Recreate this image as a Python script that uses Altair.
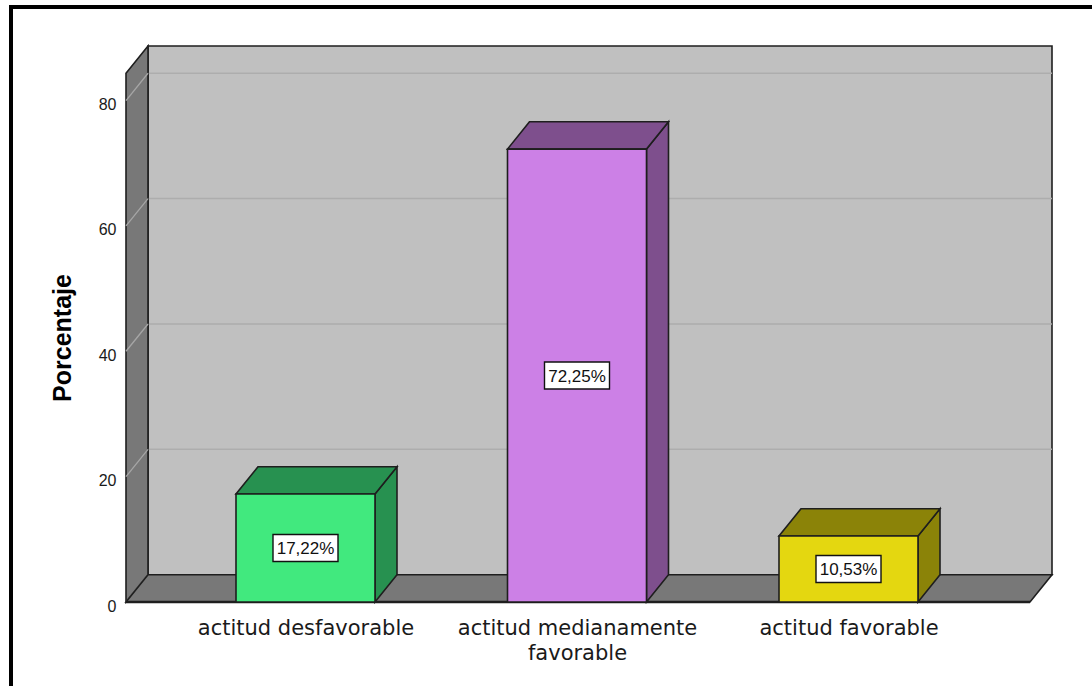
import textwrap

import altair as alt
import pandas as pd

# ---- data -------------------------------------------------------------
categories = ["actitud desfavorable", "actitud medianamente favorable", "actitud favorable"]
percentages = [17.22, 72.25, 10.53]
y_ticks = [0, 20, 40, 60, 80]

# ---- style ------------------------------------------------------------
front_colors = ["#41e97e", "#cc80e6", "#e4d710"]
shade_colors = ["#279150", "#7e4f8d", "#8b8308"]
WALL_BACK = "#c0c0c0"
WALL_SIDE = "#787878"
EDGE = "#1e1e1e"

# ---- geometry (plot area and the 3-D depth offset) --------------------
W, H = 926, 556
PAD = {"left": 126, "top": 46, "right": 1092 - 126 - W, "bottom": 686 - 46 - H}
Y_TOP = 88.7                      # percent at the top of the plot area
STEP_PX = 271.5                   # distance between category centres
X0 = -179.5 / STEP_PX             # left edge of the plot, in category units
X1 = X0 + W / STEP_PX             # right edge
HALF = 69.5 / STEP_PX             # half bar width
DX = 22 / STEP_PX                 # depth, horizontal
DY = 27.3 / (H / Y_TOP)           # depth, vertical (percent units)

xs = alt.Scale(domain=[X0, X1], nice=False, zero=False)
ys = alt.Scale(domain=[0, Y_TOP], nice=False, zero=False)
shade = alt.Scale(domain=categories, range=shade_colors)
front = alt.Scale(domain=categories, range=front_colors)

idx = list(range(len(categories)))
bars = pd.DataFrame({
    "cat": categories,
    "i": idx,
    "pct": percentages,
    "lo": [i - HALF for i in idx],
    "hi": [i + HALF for i in idx],
    "mid": [p / 2 for p in percentages],
    "label": [f"{p:.2f}".replace(".", ",") + "%" for p in percentages],
})

top_rows, side_rows = [], []
for c, i, p in zip(categories, idx, percentages):
    top_rows += [
        {"cat": c, "y": p, "xa": i - HALF, "xb": i + HALF},
        {"cat": c, "y": p + DY, "xa": i - HALF + DX, "xb": i + HALF + DX},
    ]
    side_rows += [
        {"cat": c, "x": i + HALF, "ya": 0, "yb": p},
        {"cat": c, "x": i + HALF + DX, "ya": DY, "yb": p + DY},
    ]
top_faces = pd.DataFrame(top_rows)
side_faces = pd.DataFrame(side_rows)

# walls of the box
back_wall = pd.DataFrame([{"xa": X0 + DX, "xb": X1, "ya": DY, "yb": Y_TOP}])
left_wall = pd.DataFrame([
    {"x": X0, "ya": 0, "yb": Y_TOP - DY},
    {"x": X0 + DX, "ya": DY, "yb": Y_TOP},
])
floor = pd.DataFrame([
    {"y": 0, "xa": X0, "xb": X1 - DX},
    {"y": DY, "xa": X0 + DX, "xb": X1},
])
grid_back = pd.DataFrame({"y": [v + DY for v in y_ticks[1:]], "xa": X0 + DX, "xb": X1})
grid_side = pd.DataFrame({"ya": y_ticks, "yb": [v + DY for v in y_ticks], "xa": X0, "xb": X0 + DX})

# multi-line category labels for the x axis
wrapped = [textwrap.wrap(c, 22) for c in categories]
label_expr = "[" + ",".join("[" + ",".join(f"'{s}'" for s in w) + "]" for w in wrapped) + "][datum.value]"

x_axis = alt.Axis(values=idx, labelExpr=label_expr, title=None, grid=False, domain=False,
                  ticks=False, labelPadding=15, labelFont="DejaVu Sans", labelFontSize=21,
                  labelColor="#1a1a1a", labelLineHeight=25, labelOverlap=False,
                  labelLimit=500)
y_axis = alt.Axis(values=y_ticks, title="Porcentaje", grid=False, domain=False, ticks=False,
                  labelPadding=10, labelFont="Liberation Sans", labelFontSize=16,
                  labelColor="#1a1a1a", labelOffset=4,
                  titleFont="Liberation Sans", titleFontSize=25, titleFontWeight="bold",
                  titleColor="#000000", titleX=-64, titleY=291.5, titleAngle=270,
                  titleAlign="center", titleBaseline="middle")


def X(field):
    return alt.X(field, type="quantitative", scale=xs, axis=x_axis)


def Y(field):
    return alt.Y(field, type="quantitative", scale=ys, axis=y_axis)


wall_back = alt.Chart(back_wall).mark_rect(fill=WALL_BACK, stroke=EDGE, strokeWidth=1.6).encode(
    x=X("xa"), x2="xb", y=Y("ya"), y2="yb",
)
back_grid = alt.Chart(grid_back).mark_rule(color="#adadad", strokeWidth=1.5).encode(
    x=X("xa"), x2="xb", y=Y("y"),
)
wall_left = alt.Chart(left_wall).mark_area(orient="vertical", fill=WALL_SIDE, stroke=EDGE,
                                           strokeWidth=1.6).encode(
    x=X("x"), y=Y("ya"), y2="yb",
)
side_grid = alt.Chart(grid_side).mark_rule(color="#a6a6a6", strokeWidth=1.3).encode(
    x=X("xa"), x2="xb", y=Y("ya"), y2="yb",
)
wall_floor = alt.Chart(floor).mark_area(orient="horizontal", fill=WALL_SIDE, stroke=EDGE,
                                        strokeWidth=1.6).encode(
    y=Y("y"), x=X("xa"), x2="xb",
)
floor_front = alt.Chart(floor).transform_filter("datum.y == 0").mark_rule(
    color=EDGE, strokeWidth=2.5).encode(
    x=X("xa"), x2="xb", y=Y("y"),
)

bar_side = alt.Chart(side_faces).mark_area(orient="vertical", stroke=EDGE, strokeWidth=1.6,
                                           opacity=1).encode(
    x=X("x"), y=Y("ya"), y2="yb",
    color=alt.Color("cat:N", scale=shade, legend=None),
    detail="cat:N",
)
bar_top = alt.Chart(top_faces).mark_area(orient="horizontal", stroke=EDGE, strokeWidth=1.6,
                                         opacity=1).encode(
    y=Y("y"), x=X("xa"), x2="xb",
    color=alt.Color("cat:N", scale=shade, legend=None),
    detail="cat:N",
)
bar_front = alt.Chart(bars).mark_rect(stroke=EDGE, strokeWidth=1.6, opacity=1).encode(
    x=X("lo"), x2="hi", y=Y("pct"), y2=alt.datum(0),
    fill=alt.Fill("cat:N", scale=front, legend=None),
)
label_box = alt.Chart(bars).mark_rect(fill="white", stroke="#111111", strokeWidth=1.4,
                                      xOffset=-32.5, x2Offset=32.5,
                                      yOffset=-13.5, y2Offset=13.5).encode(
    x=X("i"), x2="i", y=Y("mid"), y2="mid",
)
label_text = alt.Chart(bars).mark_text(font="Liberation Sans", fontSize=17, color="#111111",
                                       align="center", baseline="middle", dy=1).encode(
    x=X("i"), y=Y("mid"), text="label:N",
)

# outer frame lines along the top and left of the picture
frame_top = alt.Chart(bars).mark_rule(color="black", strokeWidth=4).encode(
    x=alt.value(-117), x2=alt.value(W + PAD["right"]), y=alt.value(-39),
)
frame_left = alt.Chart(bars).mark_rule(color="black", strokeWidth=4).encode(
    x=alt.value(-115), y=alt.value(-41), y2=alt.value(H + PAD["bottom"]),
)

chart = alt.layer(
    wall_back, back_grid, wall_left, side_grid, wall_floor, floor_front,
    bar_side, bar_top, bar_front, label_box, label_text, frame_top, frame_left,
).properties(
    width=W, height=H, padding=PAD,
    autosize=alt.AutoSizeParams(type="none"),
    background="white",
).configure_view(stroke=None)

chart.save("out.html", embed_options={"renderer": "svg", "actions": False})
